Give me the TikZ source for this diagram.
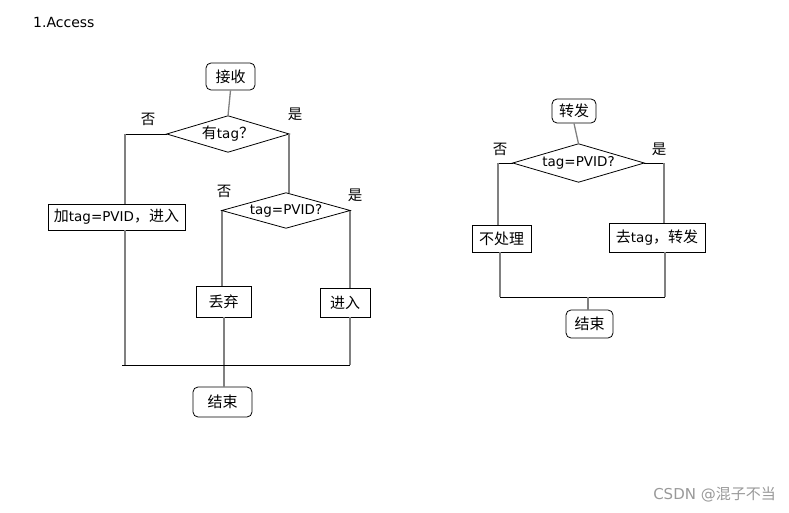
\documentclass[tikz,border=0pt]{standalone}
\usepackage{fontspec}
\setmainfont{DejaVu Sans}
\newfontfamily\cjk{Noto Sans CJK SC}
\usetikzlibrary{shapes.geometric}
\begin{document}
\begin{tikzpicture}[x=1pt,y=-1pt,
  every node/.style={font=\fontsize{13.5}{15}\selectfont, inner sep=0pt},
  term/.style={draw, rounded corners=5pt, line width=0.8pt},
  proc/.style={draw, line width=0.8pt},
  dec/.style={rectangle},
  decline/.style={draw=black, line width=0.8pt},
  vline/.style={draw=gray, line width=1.3pt},
  hline/.style={draw=black, line width=0.8pt},
  lbl/.style={font=\fontsize{14.5}{16}\selectfont\cjk}
]
\newcommand{\C}[1]{{\fontsize{15}{16}\selectfont\cjk #1}}
\useasboundingbox (0,0) rectangle (789,513);
\node[anchor=west, font=\fontsize{14}{16}\selectfont] (title) at (33,22) {1.Access};

% left diagram
\node[term, minimum width=49pt, minimum height=27pt] (recv) at (230.5,76.5) {\C{接收}};
\node[dec, minimum width=122pt, minimum height=36pt] (d1) at (228,134) {\C{有}tag\C{？}};
\node[proc, minimum width=137pt, minimum height=26pt] (add) at (116.5,217) {\C{加}tag=PVID\C{，进入}};
\node[dec, minimum width=128pt, minimum height=35pt] (d2) at (286,210.5) {tag=PVID?};
\node[proc, minimum width=55pt, minimum height=31pt] (drop) at (223.5,301.5) {\C{丢弃}};
\node[proc, minimum width=50pt, minimum height=29pt] (enter) at (345,302.5) {\C{进入}};
\node[term, minimum width=59pt, minimum height=30pt] (end1) at (222.5,402) {\C{结束}};
\path[decline] (d1.north) -- (d1.east) -- (d1.south) -- (d1.west) -- cycle;
\path[decline] (d2.north) -- (d2.east) -- (d2.south) -- (d2.west) -- cycle;

\node[lbl] (n1) at (148,119) {否};
\node[lbl] (y1) at (295,114) {是};
\node[lbl] (n2) at (224,191) {否};
\node[lbl] (y2) at (355,195) {是};

\coordinate (c1) at (125,134);
\coordinate (c1b) at (125,204);
\coordinate (c1c) at (125,230);
\coordinate (c1d) at (125,365);
\coordinate (c2) at (289,134);
\coordinate (c2b) at (289,193);
\coordinate (c3) at (222,210.5);
\coordinate (c3b) at (222,286);
\coordinate (c4) at (350,210.5);
\coordinate (c4b) at (350,288);
\coordinate (c4c) at (350,317);
\coordinate (c4d) at (350,365);
\coordinate (c5) at (224,317);
\coordinate (c5b) at (224,387);
\coordinate (h1l) at (122,365);

\path[vline] (recv.south) -- (d1.north);
\path[hline] (d1.west) -- (c1);
\path[vline] (c1) -- (c1b);
\path[vline] (c1c) -- (c1d);
\path[vline] (c2) -- (c2b);
\path[vline] (c3) -- (c3b);
\path[vline] (c4) -- (c4b);
\path[vline] (c4c) -- (c4d);
\path[vline] (c5) -- (c5b);
\path[hline] (h1l) -- (c4d);

% right diagram
\node[term, minimum width=44pt, minimum height=24pt] (fwd) at (574,111) {\C{转发}};
\node[dec, minimum width=131pt, minimum height=38pt] (d3) at (578.5,163) {tag=PVID?};
\path[decline] (d3.north) -- (d3.east) -- (d3.south) -- (d3.west) -- cycle;
\node[proc, minimum width=59pt, minimum height=27pt] (nop) at (501.5,238.5) {\C{不处理}};
\node[proc, minimum width=96pt, minimum height=29pt] (strip) at (657,237.5) {\C{去}tag\C{，转发}};
\node[term, minimum width=47pt, minimum height=28pt] (end2) at (589.5,324) {\C{结束}};

\node[lbl] (n3) at (500,149) {否};
\node[lbl] (y3) at (659,149) {是};

\coordinate (r1) at (498,163);
\coordinate (r1b) at (498,225);
\coordinate (r2) at (664,163);
\coordinate (r2b) at (664,223);
\coordinate (r3) at (500,252);
\coordinate (r3b) at (500,297);
\coordinate (r4) at (665,252);
\coordinate (r4b) at (665,297);
\coordinate (r5) at (588,297);
\coordinate (r5b) at (588,310);

\path[vline] (fwd.south) -- (d3.north);
\path[hline] (d3.west) -- (r1);
\path[vline] (r1) -- (r1b);
\path[hline] (d3.east) -- (r2);
\path[vline] (r2) -- (r2b);
\path[vline] (r3) -- (r3b);
\path[vline] (r4) -- (r4b);
\path[hline] (r3b) -- (r4b);
\path[vline] (r5) -- (r5b);

\node[anchor=east, text=gray!80, font=\fontsize{15}{17}\selectfont] (wm) at (776,494) {CSDN @\cjk 混子不当};
\end{tikzpicture}
\end{document}
